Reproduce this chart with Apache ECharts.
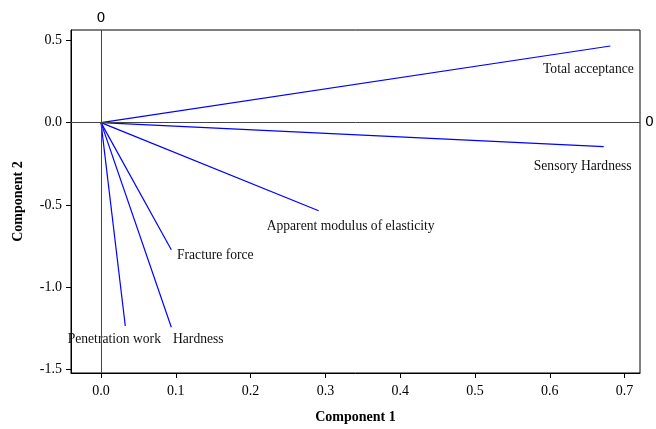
<!DOCTYPE html>
<html>
<head>
<meta charset="utf-8">
<style>
    html, body{
        margin: 0;
        padding: 0;
        background: #fff;
    }
    #main{
        width: 656px;
        height: 429px;
    }
</style>
<script src="https://cdn.jsdelivr.net/npm/echarts@6/dist/echarts.min.js"></script>
</head>
<body>
<div id="main"></div>
<script>
    // loadings
    var names = ['Total acceptance', 'Sensory Hardness', 'Apparent modulus of elasticity', 'Fracture force', 'Hardness', 'Penetration work'];
    var comp1 = [0.681, 0.672, 0.291, 0.094, 0.094, 0.0325];
    var comp2 = [0.465, -0.146, -0.535, -0.772, -1.242, -1.235];
    var xTicks = [0, 0.1, 0.2, 0.3, 0.4, 0.5, 0.6, 0.7];
    var yTicks = [-1.5, -1.0, -0.5, 0, 0.5];

    // where each name sits relative to the line end
    var labelShift = [[-22, 23], [-21, 20], [32, 16], [44, 6], [27, 12], [-11, 13]];

    var serif = '"Liberation Serif", "Times New Roman", serif';

    var series = names.map(function (n, i) {
        return {
            name: n,
            type: 'line',
            symbol: 'circle',
            symbolSize: 0.1,
            showSymbol: true,
            silent: true,
            itemStyle: { color: '#0000ff' },
            lineStyle: { color: '#0000ff', width: 1.2 },
            label: { show: false },
            data: [
                [0, 0],
                {
                    value: [comp1[i], comp2[i]],
                    label: {
                        show: true,
                        position: 'inside',
                        offset: labelShift[i],
                        formatter: n,
                        fontFamily: serif,
                        fontSize: 13.6,
                        color: '#111'
                    }
                }
            ]
        };
    });

    // zero reference lines
    series[0].markLine = {
        silent: true,
        symbol: 'none',
        lineStyle: { color: '#444', width: 1, type: 'solid' },
        label: {
            position: 'end',
            distance: 5,
            formatter: '0',
            fontFamily: '"DejaVu Sans", sans-serif',
            fontSize: 14,
            color: '#000'
        },
        data: [{ xAxis: 0 }, { yAxis: 0 }]
    };

    var option = {
        animation: false,
        backgroundColor: '#fff',
        grid: {
            left: 71,
            right: 16,
            top: 30,
            bottom: 54,
            show: true,
            borderColor: '#000',
            borderWidth: 1
        },
        xAxis: {
            type: 'value',
            min: -0.0401,
            max: 0.7206,
            name: 'Component 1',
            nameLocation: 'middle',
            nameGap: 37,
            nameTextStyle: { fontFamily: serif, fontSize: 14, fontWeight: 'bold', color: '#000' },
            axisLine: { onZero: false, lineStyle: { color: '#000' } },
            axisTick: { show: true, length: 5, customValues: xTicks, lineStyle: { color: '#000' } },
            axisLabel: {
                customValues: xTicks,
                margin: 11,
                fontFamily: serif,
                fontSize: 14,
                color: '#000',
                formatter: function (v) { return v.toFixed(1); }
            },
            splitLine: { show: false }
        },
        yAxis: {
            type: 'value',
            min: -1.52,
            max: 0.562,
            name: 'Component 2',
            nameLocation: 'middle',
            nameGap: 46,
            nameTextStyle: { fontFamily: serif, fontSize: 14, fontWeight: 'bold', color: '#000' },
            axisLine: { show: true, onZero: false, lineStyle: { color: '#000' } },
            axisTick: { show: true, length: 5, customValues: yTicks, lineStyle: { color: '#000' } },
            axisLabel: {
                customValues: yTicks,
                margin: 9,
                fontFamily: serif,
                fontSize: 14,
                color: '#000',
                formatter: function (v) { return v.toFixed(1); }
            },
            splitLine: { show: false }
        },
        series: series
    };

    var myChart = echarts.init(document.getElementById('main'));
    myChart.setOption(option);
</script>
</body>
</html>
